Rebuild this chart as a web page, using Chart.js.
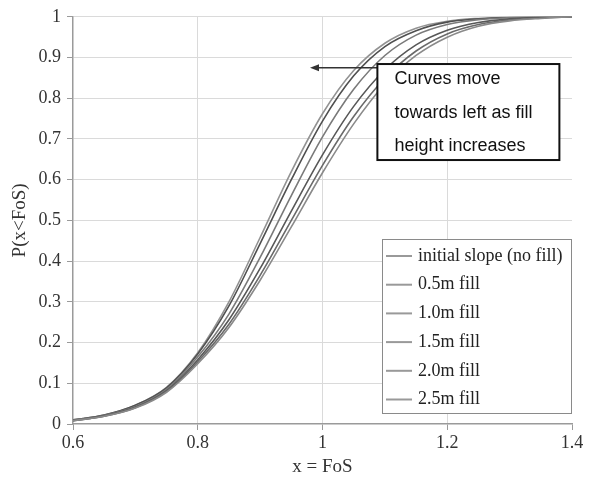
<!DOCTYPE html>
<html>
<head>
<meta charset="utf-8">
<script src="https://cdn.jsdelivr.net/npm/chart.js@4.4.1/dist/chart.umd.min.js"></script>
<style>
  html, body { margin: 0; padding: 0; background: #fff; }
  #wrap { width: 590px; height: 482px; position: relative; }
</style>
</head>
<body>
<div id="wrap"><canvas id="fosChart"></canvas></div>
<script>
const ctx = document.getElementById('fosChart').getContext('2d')

// x = FoS sample points
const fos = [0.6, 0.65, 0.7, 0.75, 0.8, 0.85, 0.9, 0.95, 1.0, 1.05, 1.1, 1.15, 1.2, 1.25, 1.3, 1.35, 1.4]

const seriesNames = [
  'initial slope (no fill)',
  '0.5m fill',
  '1.0m fill',
  '1.5m fill',
  '2.0m fill',
  '2.5m fill'
]

// P(x<FoS)
const noFill = [0.008, 0.019, 0.039, 0.078, 0.148, 0.237, 0.353, 0.484, 0.617, 0.737, 0.835, 0.905, 0.95, 0.977, 0.99, 0.996, 1]
const fill05 = [0.008, 0.019, 0.04, 0.08, 0.153, 0.245, 0.365, 0.5, 0.635, 0.755, 0.849, 0.916, 0.958, 0.981, 0.992, 0.997, 1]
const fill10 = [0.008, 0.02, 0.041, 0.082, 0.158, 0.256, 0.382, 0.523, 0.661, 0.78, 0.87, 0.931, 0.967, 0.986, 0.995, 0.999, 1]
const fill15 = [0.009, 0.021, 0.043, 0.085, 0.165, 0.27, 0.409, 0.561, 0.705, 0.822, 0.905, 0.955, 0.981, 0.993, 0.998, 1, 1]
const fill20 = [0.01, 0.022, 0.046, 0.089, 0.172, 0.29, 0.443, 0.6, 0.744, 0.855, 0.927, 0.966, 0.987, 0.995, 0.999, 1, 1]
const fill25 = [0.01, 0.022, 0.046, 0.09, 0.175, 0.3, 0.458, 0.62, 0.762, 0.868, 0.935, 0.972, 0.989, 0.996, 0.999, 1, 1]

const allSeries = [noFill, fill05, fill10, fill15, fill20, fill25]
const lineColors = ['#8a8a8a', '#6a6a6a', '#585858', '#7a7a7a', '#505050', '#939393']

const xTickValues = [0.6, 0.8, 1, 1.2, 1.4]
const xTickLabels = ['0.6', '0.8', '1', '1.2', '1.4']
const yTickValues = [0, 0.1, 0.2, 0.3, 0.4, 0.5, 0.6, 0.7, 0.8, 0.9, 1]
const yTickLabels = ['0', '0.1', '0.2', '0.3', '0.4', '0.5', '0.6', '0.7', '0.8', '0.9', '1']

const noteLines = ['Curves move', 'towards left as fill', 'height increases']

const serif = "'Liberation Serif', 'Times New Roman', serif"
const sans = "'Liberation Sans', Arial, sans-serif"

// draws the boxed legend and the arrow note inside the plot
const overlays = {
  id: 'overlays',
  afterDraw (chart) {
    const c = chart.ctx
    const area = chart.chartArea
    const xs = chart.scales.x
    const ys = chart.scales.y

    // legend box
    const lw = 190
    const lh = 175
    const lx = area.right - lw
    const ly = area.bottom - 10 - lh
    c.save()
    c.fillStyle = '#fff'
    c.fillRect(lx, ly, lw, lh)
    c.strokeStyle = '#8a8a8a'
    c.lineWidth = 1
    c.strokeRect(lx + 0.5, ly + 0.5, lw - 1, lh - 1)
    c.font = '18px ' + serif
    c.textBaseline = 'middle'
    c.fillStyle = '#222'
    chart.data.datasets.forEach((ds, i) => {
      const rowY = ly + 17 + i * 28.7
      c.strokeStyle = '#999'
      c.lineWidth = 2
      c.beginPath()
      c.moveTo(lx + 4, rowY)
      c.lineTo(lx + 30, rowY)
      c.stroke()
      c.fillText(ds.label, lx + 36, rowY)
    })
    c.restore()

    // note box with arrow
    const bx = xs.getPixelForValue(1.088)
    const by = ys.getPixelForValue(0.884)
    const bw = 182
    const bh = 96
    const arrowY = ys.getPixelForValue(0.875)
    const tipX = xs.getPixelForValue(0.98)
    c.save()
    c.strokeStyle = '#333'
    c.fillStyle = '#333'
    c.lineWidth = 1.5
    c.beginPath()
    c.moveTo(bx, arrowY)
    c.lineTo(tipX + 6, arrowY)
    c.stroke()
    c.beginPath()
    c.moveTo(tipX, arrowY)
    c.lineTo(tipX + 9, arrowY - 3.5)
    c.lineTo(tipX + 9, arrowY + 3.5)
    c.closePath()
    c.fill()

    c.fillStyle = '#fff'
    c.fillRect(bx, by, bw, bh)
    c.strokeStyle = '#111'
    c.lineWidth = 2
    c.strokeRect(bx, by, bw, bh)
    c.fillStyle = '#111'
    c.font = '18px ' + sans
    c.textBaseline = 'alphabetic'
    noteLines.forEach((t, i) => {
      c.fillText(t, bx + 17, by + 20 + i * 33.5)
    })
    c.restore()
  }
}

new Chart(ctx, {
  type: 'line',
  data: {
    datasets: allSeries.map((vals, i) => ({
      label: seriesNames[i],
      data: vals.map((v, j) => ({ x: fos[j], y: v })),
      borderColor: lineColors[i],
      borderWidth: 1.6,
      pointRadius: 0,
      fill: false,
      cubicInterpolationMode: 'monotone'
    }))
  },
  options: {
    responsive: true,
    maintainAspectRatio: false,
    animation: false,
    layout: { padding: { top: 15, right: 18, left: 0, bottom: 0 } },
    plugins: {
      legend: { display: false },
      tooltip: { enabled: false }
    },
    scales: {
      x: {
        type: 'linear',
        min: 0.6,
        max: 1.4,
        afterBuildTicks: s => { s.ticks = xTickValues.map(v => ({ value: v })) },
        afterFit: s => { s.height = 58 },
        border: { color: '#9a9a9a', width: 1.5 },
        grid: {
          color: c => (c.tick && (c.tick.value === 0.6 || c.tick.value === 1.4)) ? 'rgba(0,0,0,0)' : '#dadada',
          tickColor: '#9a9a9a',
          tickLength: 6,
          lineWidth: 1
        },
        ticks: {
          color: '#333',
          padding: 2,
          font: { family: serif, size: 18 },
          callback: (v, i) => xTickLabels[i]
        },
        title: {
          display: true,
          text: 'x = FoS',
          color: '#333',
          padding: 4,
          font: { family: serif, size: 19 }
        }
      },
      y: {
        min: 0,
        max: 1,
        afterBuildTicks: s => { s.ticks = yTickValues.map(v => ({ value: v })) },
        afterFit: s => { s.width = 73 },
        border: { color: '#9a9a9a', width: 1.5 },
        grid: {
          color: c => (c.tick && c.tick.value === 0) ? 'rgba(0,0,0,0)' : '#dadada',
          tickColor: '#9a9a9a',
          tickLength: 6,
          lineWidth: 1
        },
        ticks: {
          color: '#333',
          padding: 6,
          font: { family: serif, size: 18 },
          callback: (v, i) => yTickLabels[i]
        },
        title: {
          display: true,
          text: 'P(x<FoS)',
          color: '#333',
          padding: 9,
          font: { family: serif, size: 19 }
        }
      }
    }
  },
  plugins: [overlays]
})
</script>
</body>
</html>
